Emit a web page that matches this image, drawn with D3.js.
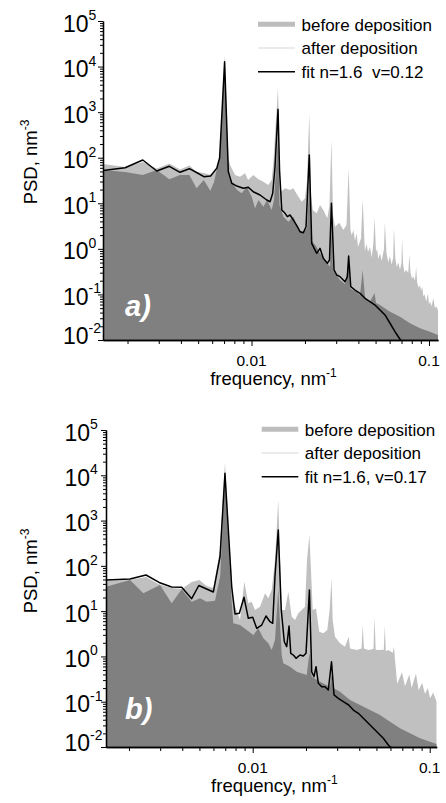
<!DOCTYPE html>
<html>
<head>
<meta charset="utf-8">
<script src="https://cdn.jsdelivr.net/npm/d3@7"></script>
<style>
  body { margin: 0; background: #fff; }
  text { font-family: "Liberation Sans", Arial, sans-serif; }
</style>
</head>
<body>
<div id="chart"></div>
<script>
// ---------------------------------------------------------------
// data: [frequency nm^-1, PSD nm^-3]
// ---------------------------------------------------------------
const beforeA = [
  [0.001456, 72.8],[0.001938, 62.6],[0.002438, 80.5],[0.002924, 58.0],[0.003441, 74.7],[0.003954, 55.1],
  [0.004463, 67.5],[0.0049, 48.6],[0.005385, 46.2],[0.005874, 41.8],[0.00637, 53.8],[0.006607, 103.7],
  [0.00705, 17950],[0.007399, 98.6],[0.007568, 69.2],[0.008072, 41.8],[0.008613, 38.3],[0.009191, 45.5],
  [0.009557, 32.4],[0.01023, 41.8],[0.01088, 34.1],[0.01166, 29.8],[0.01243, 25.2],[0.01299, 32.4],
  [0.0133, 89.1],[0.0141, 3510],[0.01438, 69.2],[0.0146, 17.9],[0.01545, 21.3],[0.01648, 19.6],
  [0.0172, 21.3],[0.01812, 15.2],[0.01918, 10.8],[0.02001, 12.9],[0.02055, 32.4],[0.02115, 944],
  [0.02164, 15.2],[0.02212, 7.13],[0.0233, 6.03],[0.02431, 9.17],[0.02538, 7.13],[0.02674, 4.69],
  [0.0275, 9.17],[0.0282, 254],[0.02879, 5.53],[0.02954, 3.06],[0.03124, 3.75],[0.0329, 2.59],
  [0.03429, 3.34],[0.03525, 58.6],[0.03611, 2.59],[0.03668, 2.0],[0.0375, 2.6],[0.03829, 1.5],
  [0.0391, 2.2],[0.03981, 1.1],[0.04139, 1.7],[0.0423, 12.2],[0.0433, 1.4],[0.04358, 0.9],
  [0.0445, 1.3],[0.04531, 0.85],[0.0465, 1.1],[0.04755, 0.65],[0.04855, 1.3],[0.04935, 4.93],
  [0.05028, 0.85],[0.051, 1.0],[0.05181, 0.6],[0.053, 0.8],[0.05414, 0.55],[0.05578, 1.0],
  [0.0564, 3.88],[0.05762, 0.8],[0.05898, 0.5],[0.0602, 0.7],[0.06164, 0.45],[0.06285, 0.65],
  [0.06345, 2.87],[0.06467, 0.6],[0.06577, 0.4],[0.0672, 0.5],[0.06865, 0.35],[0.07, 0.5],
  [0.0705, 1.7],[0.0715, 0.45],[0.0728, 0.3],[0.0742, 0.35],[0.0764, 0.3],[0.07755, 0.733],
  [0.0787, 0.3],[0.0802, 0.22],[0.0815, 0.25],[0.0834, 0.2],[0.0846, 0.4],[0.0858, 0.18],
  [0.0875, 0.14],[0.089, 0.16],[0.0903, 0.12],[0.09165, 0.15],[0.093, 0.09],[0.0945, 0.1],
  [0.0965, 0.07],[0.0987, 0.105],[0.1, 0.06],[0.1015, 0.07],[0.1035, 0.055],[0.10575, 0.083],
  [0.108, 0.05],[0.11, 0.055],[0.1124, 0.045]
];
const afterA = [
  [0.001456, 53.8],[0.001938, 48.6],[0.002438, 41.8],[0.002924, 53.8],[0.003441, 33.6],[0.003954, 41.8],
  [0.004463, 41.8],[0.0049, 21.3],[0.00538, 32.4],[0.00586, 18.9],[0.006147, 29.3],[0.00639, 59.5],
  [0.006607, 89.1],[0.00705, 12000],[0.007399, 41.8],[0.007665, 27.9],[0.007898, 25.2],[0.008288, 19.6],
  [0.008807, 16.6],[0.009397, 23.1],[0.010026, 13.95],[0.01046, 7.77],[0.01095, 11.8],[0.01166, 8.42],
  [0.01223, 11.8],[0.01299, 7.13],[0.01339, 11.8],[0.0141, 300],[0.01438, 9.17],[0.01511, 5.08],
  [0.01612, 3.94],[0.0172, 5.08],[0.01835, 2.59],[0.01958, 2.34],[0.02055, 2.87],[0.02115, 30],
  [0.02164, 1.565],[0.02309, 1.155],[0.02431, 0.799],[0.02594, 0.569],[0.02769, 0.406],[0.0282, 3],
  [0.02879, 0.344],[0.03153, 0.207],[0.03363, 0.169],[0.03525, 0.5],[0.03587, 0.136],[0.03829, 0.119],
  [0.04086, 0.0972],[0.0423, 0.344],[0.04358, 0.0878],[0.04651, 0.0692],[0.04935, 0.1075],[0.05028, 0.0649],
  [0.05296, 0.0586],[0.0603, 0.0418],[0.06865, 0.0325],[0.07816, 0.0233],[0.08898, 0.0181],[0.1013, 0.0152],
  [0.1124, 0.0129]
];
const fitA = [
  [0.001456, 52.4],[0.001938, 60.4],[0.002438, 89.1],[0.002924, 51.1],[0.003441, 64.8],[0.003954, 47.9],
  [0.004463, 57.4],[0.0049, 47.4],[0.005385, 38.3],[0.005874, 39.7],[0.00637, 58.6],[0.006607, 98.6],
  [0.00705, 12800],[0.007399, 49.3],[0.007735, 27.5],[0.008254, 23.9],[0.008991, 21.3],[0.009593, 22.4],
  [0.01023, 17.9],[0.01117, 15.2],[0.01218, 11.8],[0.01272, 10.8],[0.01316, 16.6],[0.01356, 63.5],
  [0.0141, 1155],[0.01438, 53.8],[0.0148, 7.13],[0.01545, 6.03],[0.01591, 5.08],[0.01648, 5.53],
  [0.0172, 4.3],[0.01812, 3.06],[0.01875, 2.38],[0.01958, 2.26],[0.02028, 3.06],[0.02115, 114.7],
  [0.02183, 1.32],[0.0233, 0.799],[0.02431, 1.029],[0.02538, 0.621],[0.02674, 0.482],[0.0275, 0.569],
  [0.0282, 10],[0.02917, 0.344],[0.0302, 0.267],[0.03153, 0.245],[0.03363, 0.19],[0.03467, 0.245],
  [0.03525, 0.697],[0.03622, 0.148],[0.03829, 0.125],[0.04086, 0.106],[0.04358, 0.0822],[0.04651, 0.0692],
  [0.04963, 0.0586],[0.05296, 0.0455],[0.05651, 0.0354],[0.0603, 0.0233],[0.06434, 0.0152],[0.06865, 0.0104],
  [0.0733, 0.0067]
];

const beforeB = [
  [0.001483, 47],[0.002026, 48.7],[0.002495, 56.7],[0.002928, 39.7],[0.003486, 32.4],[0.003971, 30.8],
  [0.00452, 44],[0.004992, 48.7],[0.005497, 35.9],[0.005989, 32.4],[0.006535, 224],[0.00697, 18950],
  [0.00749, 135],[0.007767, 16.2],[0.008477, 6.37],[0.008965, 44.7],[0.009443, 14.9],[0.00987, 16.2],
  [0.0103, 10.6],[0.011, 12.5],[0.01174, 24.8],[0.01225, 19.2],[0.0128, 29.3],[0.01336, 135],
  [0.01394, 2843],[0.01458, 10.6],[0.01522, 10.6],[0.01589, 26.9],[0.01661, 7.53],[0.01734, 6.37],
  [0.0181, 8.96],[0.01891, 10.6],[0.01974, 12.5],[0.02027, 135],[0.02091, 480],[0.02183, 10.6],
  [0.02279, 11.5],[0.02378, 3.52],[0.02505, 3.24],[0.02638, 3.83],[0.0272, 10.6],[0.02788, 53.1],
  [0.0283, 6.4],[0.02917, 2.73],[0.03113, 1.95],[0.03323, 1.64],[0.03485, 2.73],[0.03546, 1.5],
  [0.03869, 1.39],[0.0412, 1.5],[0.04182, 4.94],[0.0425, 1.5],[0.04499, 1.39],[0.0481, 1.45],
  [0.04879, 7.53],[0.0495, 1.4],[0.05124, 1.39],[0.055, 1.4],[0.05576, 4.7],[0.0565, 1.3],
  [0.05836, 1.39],[0.0618, 1.2],[0.06273, 1.64],[0.0636, 0.9],[0.0655, 0.25],[0.0697, 0.45],
  [0.0725, 0.22],[0.07667, 0.4],[0.079, 0.2],[0.08364, 0.42],[0.0865, 0.18],[0.09061, 0.26],
  [0.094, 0.15],[0.09758, 0.2],[0.1005, 0.12],[0.10455, 0.16],[0.1095, 0.1]
];
const afterB = [
  [0.001483, 34.6],[0.002026, 48.7],[0.00241, 24.8],[0.002994, 37.8],[0.003486, 14.9],[0.003971, 30.3],
  [0.00452, 16.2],[0.005038, 19.2],[0.005497, 16.2],[0.006124, 17],[0.00655, 60],[0.00697, 9000],
  [0.0076, 17],[0.007767, 5.39],[0.008477, 4.94],[0.00925, 3.83],[0.01008, 2.97],[0.01076, 4.18],
  [0.01148, 2.51],[0.01225, 1.95],[0.0128, 1.39],[0.01336, 2.3],[0.01394, 30],[0.01458, 1.07],
  [0.01489, 0.705],[0.01625, 0.593],[0.01773, 0.46],[0.02019, 0.389],[0.02091, 1.2],[0.02154, 0.357],
  [0.024, 0.277],[0.02733, 0.214],[0.02788, 0.4],[0.0285, 0.2],[0.03113, 0.166],[0.03546, 0.109],
  [0.04039, 0.0846],[0.04599, 0.0656],[0.05239, 0.0509],[0.05967, 0.0362],[0.06796, 0.0259],[0.07741, 0.0201],
  [0.08815, 0.0156],[0.1004, 0.0131],[0.1095, 0.0116]
];
const fitB = [
  [0.001483, 48.7],[0.002026, 51],[0.002495, 62.8],[0.00296, 43],[0.003486, 34.1],[0.003971, 33.6],
  [0.00452, 18.8],[0.00496, 36.8],[0.005989, 26.4],[0.006535, 159],[0.00697, 11050],[0.007608, 34.6],
  [0.007943, 8.64],[0.0084, 8.96],[0.00893, 20.2],[0.009443, 6.95],[0.01, 7.31],[0.01053, 4.18],
  [0.01124, 4.94],[0.01189, 7.81],[0.01252, 5.84],[0.01297, 5.39],[0.01336, 58],[0.01394, 618],
  [0.0145, 10.6],[0.01508, 2.11],[0.01556, 1.64],[0.01604, 4.7],[0.0164, 1.17],[0.01696, 1.075],
  [0.01757, 0.909],[0.0185, 1.075],[0.01931, 1.02],[0.02, 1.17],[0.02091, 29.3],[0.02154, 0.46],
  [0.0222, 0.357],[0.02279, 0.593],[0.02348, 0.255],[0.02454, 0.214],[0.02561, 0.214],[0.02673, 0.181],
  [0.02788, 0.765],[0.02879, 0.141],[0.03045, 0.119],[0.0325, 0.1],[0.03485, 0.0846],[0.03702, 0.0656],
  [0.0395, 0.0555],[0.04216, 0.043],[0.04499, 0.0334],[0.04801, 0.0259],[0.05124, 0.0201],[0.05467, 0.0156],
  [0.05836, 0.0111],[0.061, 0.0094],[0.0637, 0.0078]
];

// ticks and texts
const yTickExps = [-2, -1, 0, 1, 2, 3, 4, 5];
const xTickValues = [0.01, 0.1];
const xTickLabels = ["0.01", "0.1"];
const legendA = ["before deposition", "after deposition", "fit n=1.6  v=0.12"];
const legendB = ["before deposition", "after deposition", "fit n=1.6, v=0.17"];

const colBefore = "#c0c0c0", colAfter = "#808080";

const svg = d3.select("#chart").append("svg")
    .attr("width", 446)
    .attr("height", 803);

// minor log ticks 2..9 x 10^e
function minorTicks(e0, e1) {
  const out = [];
  for (let e = e0; e <= e1; e++)
    for (let m = 2; m <= 9; m++) out.push(m * Math.pow(10, e));
  return out;
}

function drawPanel(p) {
  const x = d3.scaleLog().domain(p.xDomain).range([p.left, p.right]);
  const y = d3.scaleLog().domain([1e-2, 1e5]).range([p.bottom, p.top]);
  const g = svg.append("g");

  g.append("clipPath").attr("id", "clip" + p.id)
    .append("rect")
      .attr("x", p.left).attr("y", p.top - 12)
      .attr("width", p.right - p.left).attr("height", p.bottom - p.top + 12);

  const area = d3.area().x(d => x(d[0])).y0(p.bottom).y1(d => y(d[1]));
  const line = d3.line().x(d => x(d[0])).y(d => y(d[1]));

  const plot = g.append("g").attr("clip-path", `url(#clip${p.id})`);
  plot.append("path").datum(p.before).attr("fill", colBefore).attr("d", area);
  plot.append("path").datum(p.after).attr("fill", colAfter).attr("d", area);
  plot.append("path").datum(p.fit)
      .attr("fill", "none")
      .attr("stroke", "#000")
      .attr("stroke-width", 1.5)
      .attr("stroke-linejoin", "round")
      .attr("d", line);

  // y axis: minor + major ticks, labels drawn by hand (10 + superscript)
  g.append("g").attr("transform", `translate(${p.left},0)`)
    .call(d3.axisLeft(y).tickValues(minorTicks(-2, 4)).tickFormat("").tickSize(3).tickSizeOuter(0));
  g.append("g").attr("transform", `translate(${p.left},0)`)
    .call(d3.axisLeft(y).tickValues(yTickExps.map(e => Math.pow(10, e))).tickFormat("").tickSize(5).tickSizeOuter(0));

  yTickExps.forEach(e => {
    const ty = y(Math.pow(10, e)) + (e === -2 ? 4 : 10.5);
    g.append("text")
      .attr("x", p.labelX).attr("y", ty)
      .attr("text-anchor", "end")
      .attr("font-size", 23)
      .text("10");
    g.append("text")
      .attr("x", p.labelX).attr("y", ty - 11.5)
      .attr("font-size", 14)
      .text(String(e));
  });

  // x axis
  g.append("g").attr("transform", `translate(0,${p.bottom})`)
    .call(d3.axisBottom(x).tickValues(minorTicks(-3, -2).filter(v => v > p.xDomain[0] && v < p.xDomain[1]))
      .tickFormat("").tickSize(4).tickSizeOuter(0));
  g.append("g").attr("transform", `translate(0,${p.bottom})`)
    .call(d3.axisBottom(x).tickValues(xTickValues).tickFormat("").tickSize(6).tickSizeOuter(0));

  xTickValues.forEach((v, i) => {
    g.append("text")
      .attr("x", x(v)).attr("y", p.bottom + 25.5)
      .attr("text-anchor", "middle")
      .attr("font-size", 15.5)
      .text(xTickLabels[i]);
  });

  g.selectAll(".domain").attr("stroke-width", 1.3);

  // axis titles
  const xt = g.append("text")
    .attr("x", (p.left + p.right) / 2 + 3).attr("y", p.bottom + 44.5)
    .attr("text-anchor", "middle")
    .attr("font-size", 18.5);
  xt.append("tspan").text("frequency, nm");
  xt.append("tspan").attr("dy", -8).attr("font-size", 12).text("-1");

  const yt = g.append("text")
    .attr("transform", `translate(37,${p.top + 141}) rotate(-90)`)
    .attr("text-anchor", "middle")
    .attr("font-size", 18.5);
  yt.append("tspan").text("PSD, nm");
  yt.append("tspan").attr("dy", -8).attr("font-size", 12).text("-3");

  // legend
  const legStyle = [
    {stroke: "#bdbdbd", width: 5},
    {stroke: "#e4e4e4", width: 1.5},
    {stroke: "#000", width: 1.5}
  ];
  p.legend.forEach((lab, i) => {
    const ly = p.legY + i * 23.7;
    g.append("line")
      .attr("x1", p.legX1).attr("x2", p.legX2)
      .attr("y1", ly).attr("y2", ly)
      .attr("stroke", legStyle[i].stroke)
      .attr("stroke-width", legStyle[i].width);
    g.append("text")
      .attr("x", p.legX2 + 6.5).attr("y", ly + 6.3)
      .attr("font-size", 17)
      .style("white-space", "pre")
      .text(lab);
  });

  // panel tag
  g.append("text")
    .attr("x", 125).attr("y", p.tagY)
    .attr("fill", "#fff")
    .attr("font-size", 29)
    .attr("font-weight", "bold")
    .attr("font-style", "italic")
    .text(p.tag);
}

drawPanel({
  id: "a", tag: "a)", before: beforeA, after: afterA, fit: fitA, legend: legendA,
  xDomain: [0.001455, 0.1124], left: 103, right: 438, top: 21, bottom: 340,
  labelX: 88.5, legX1: 258, legX2: 295, legY: 24.3, tagY: 316
});
drawPanel({
  id: "b", tag: "b)", before: beforeB, after: afterB, fit: fitB, legend: legendB,
  xDomain: [0.001483, 0.1095], left: 106, right: 436.7, top: 430, bottom: 747,
  labelX: 90, legX1: 261.7, legX2: 298.3, legY: 429.3, tagY: 719
});
</script>
</body>
</html>
